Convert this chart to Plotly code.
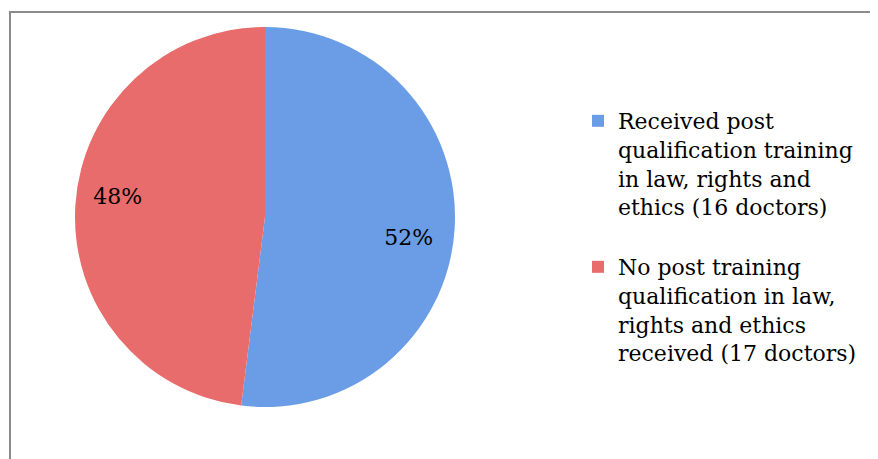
import plotly.graph_objects as go

# =============== data
labels = [
    "Received post<br>qualification training<br>in law, rights and<br>ethics (16 doctors)<br>",
    "No post training<br>qualification in law,<br>rights and ethics<br>received (17 doctors)",
]
values = [52, 48]

# =============== colours
blue = '#6A9DE6'
red = '#E86C6B'
frame = '#8C8C8C'

# page body has an 8px margin, so screen positions are offset by 8
OFF = 8
W, H = 878, 459
nb = '\u00a0'

fig = go.Figure()
fig.add_trace(go.Pie(
    labels=labels, values=values,
    sort=False, direction='clockwise', rotation=0,
    marker=dict(colors=[blue, red], line=dict(width=0)),
    textinfo='percent', textposition='inside', insidetextorientation='horizontal',
    # push the labels further out, like the original placement
    texttemplate=[nb + '<br>' + nb * 14 + '%{percent:.0%}', '%{percent:.0%}' + nb * 15 + '<br>' + nb],
    textfont=dict(family='DejaVu Serif', size=22, color='black'),
    domain=dict(x=[(74 - OFF) / W, (456 - OFF) / W], y=[1 - (407 - OFF) / H, 1 - (27 - OFF) / H]),
))

# frame: left and top edges only visible in the crop
fig.add_shape(type='rect', xref='paper', yref='paper',
              x0=(10 - OFF) / W, x1=1.05, y0=-0.05, y1=1 - (12 - OFF) / H,
              line=dict(color=frame, width=2), layer='below')

fig.update_layout(
    width=W, height=H,
    margin=dict(l=0, r=0, t=0, b=0),
    paper_bgcolor='white', plot_bgcolor='white',
    showlegend=True,
    legend=dict(x=570 / W, y=1 - 92 / H, xanchor='left', yanchor='top',
                valign='top', tracegroupgap=0,
                font=dict(family='DejaVu Serif', size=22, color='black')),
)

fig.write_html("out.html")
